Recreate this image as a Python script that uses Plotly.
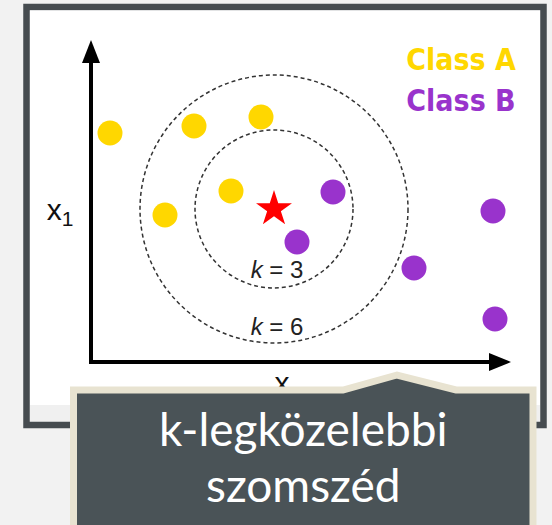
import plotly.graph_objects as go

# --- Datos (coordenadas en píxeles del lienzo 552x525) ---
clase_a_x = [110, 194, 261, 231, 165]
clase_a_y = [133, 126, 117, 191, 215]
clase_b_x = [333, 297, 414, 493, 495]
clase_b_y = [192, 242, 268, 211, 319]
consulta_x = [274]
consulta_y = [209]
radios_k = [79, 134]
etiquetas_k = ['<i>k</i> = 3', '<i>k</i> = 6']
etiquetas_k_y = [272, 329]
leyenda = ['Class A', 'Class B']
titulo = ['k-legközelebbi', 'szomszéd']

AMARILLO = '#FFD700'
MORADO = '#9933CC'
OSCURO = '#4A5357'
BEIGE = '#E8E3D1'

origen = (91, 362)
fin_x = 511
fin_y = 40

fig = go.Figure()

# marco de la imagen
shapes = [
    dict(type='rect', x0=26.5, x1=543.5, y0=7, y1=425, fillcolor='#F0F0F0',
         line=dict(color='#464C50', width=6.5), layer='below'),
    dict(type='rect', x0=30, x1=540, y0=10.5, y1=405, fillcolor='white',
         line=dict(width=0), layer='below'),
]

# círculos de vecindad
for r in radios_k:
    shapes.append(dict(type='circle', x0=consulta_x[0] - r, x1=consulta_x[0] + r,
                       y0=consulta_y[0] - r, y1=consulta_y[0] + r,
                       line=dict(color='#333333', width=1.5, dash='4px,3px'),
                       layer='below'))

# ejes con flechas
ox, oy = origen
shapes += [
    dict(type='line', x0=ox, x1=ox, y0=oy + 2, y1=fin_y + 15,
         line=dict(color='black', width=4), layer='below'),
    dict(type='line', x0=ox - 2, x1=fin_x - 15, y0=oy, y1=oy,
         line=dict(color='black', width=4), layer='below'),
    dict(type='path', path=f'M {ox} {fin_y} L {ox - 9} {fin_y + 23} L {ox + 9} {fin_y + 23} Z',
         fillcolor='black', line=dict(width=0), layer='below'),
    dict(type='path', path=f'M {fin_x} {oy} L {fin_x - 22} {oy - 9} L {fin_x - 22} {oy + 9} Z',
         fillcolor='black', line=dict(width=0), layer='below'),
]

# recuadro del título (encima de todo)
shapes.append(dict(
    type='path',
    path='M 73.5 540 L 73.5 390 L 343 390 L 397 375 L 456 390 L 533 390 L 533 540 Z',
    fillcolor=OSCURO, line=dict(color=BEIGE, width=7), layer='above'))

fig.add_trace(go.Scatter(x=clase_a_x, y=clase_a_y, mode='markers',
                         marker=dict(size=25, color=AMARILLO), hoverinfo='skip'))
fig.add_trace(go.Scatter(x=clase_b_x, y=clase_b_y, mode='markers',
                         marker=dict(size=25, color=MORADO), hoverinfo='skip'))
fig.add_trace(go.Scatter(x=consulta_x, y=consulta_y, mode='markers',
                         marker=dict(size=27, color='red', symbol='star'), hoverinfo='skip'))

# etiquetas k
fig.add_trace(go.Scatter(x=[277, 277], y=etiquetas_k_y, mode='text', text=etiquetas_k,
                         textfont=dict(size=24, color='#222222', family='Liberation Sans, Arial'),
                         hoverinfo='skip'))
# etiquetas de ejes
fig.add_trace(go.Scatter(x=[60, 282], y=[212, 385], mode='text', text=['x<sub>1</sub>', 'x'],
                         textfont=dict(size=30, color='#111111', family='Liberation Sans, Arial'),
                         hoverinfo='skip'))
# leyenda de clases
fig.add_trace(go.Scatter(x=[461, 461], y=[62, 103], mode='text', text=leyenda,
                         textfont=dict(size=30, color=[AMARILLO, MORADO],
                                       family='Liberation Sans Narrow, DejaVu Sans Condensed, Arial Narrow',
                                       weight='bold'),
                         hoverinfo='skip'))

for texto, y in zip(titulo, [428, 484]):
    fig.add_annotation(x=303, y=y, text=texto, showarrow=False,
                       font=dict(size=46, color='white', family='Lato, Open Sans'),
                       xanchor='center', yanchor='middle')

fig.update_layout(
    width=552, height=525,
    margin=dict(l=0, r=0, t=0, b=0),
    paper_bgcolor='#F2F2F2', plot_bgcolor='#F2F2F2',
    showlegend=False,
    shapes=shapes,
    xaxis=dict(range=[0, 552], visible=False, fixedrange=True),
    yaxis=dict(range=[525, 0], visible=False, fixedrange=True),
)

fig.write_html('out.html', config={'displayModeBar': False},
               post_script="document.body.style.margin='0';")
